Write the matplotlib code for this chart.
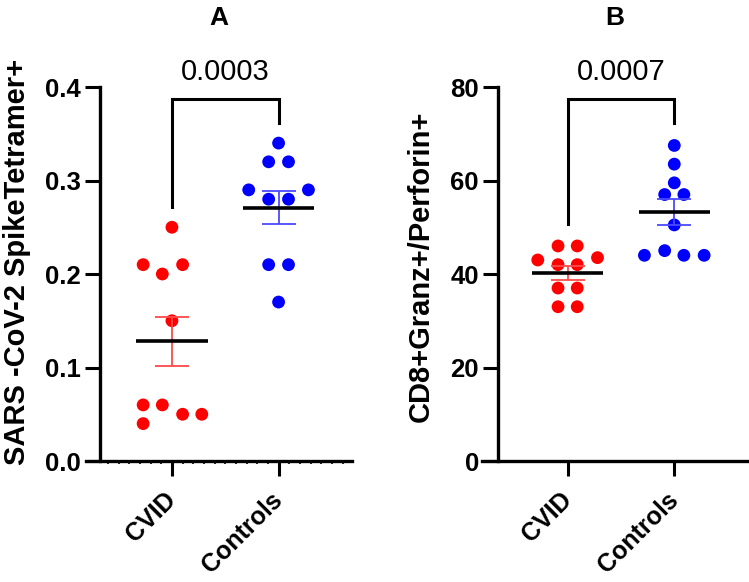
import matplotlib
matplotlib.use("Agg")
import matplotlib.pyplot as plt
from matplotlib.ticker import FixedLocator
import numpy as np

plt.rcParams['font.family'] = ['Liberation Sans', 'DejaVu Sans']

GROUPS = ["CVID", "Controls"]

# panel A: SARS-CoV-2 spike tetramer+
A_CVID = [0.25, 0.21, 0.21, 0.20, 0.15, 0.06, 0.06, 0.05, 0.05, 0.04]
A_CTRL = [0.34, 0.32, 0.32, 0.29, 0.29, 0.28, 0.28, 0.21, 0.21, 0.17]
A_PVAL = "0.0003"
A_YTICKS = [0.0, 0.1, 0.2, 0.3, 0.4]
A_YLABEL = "SARS -CoV-2 SpikeTetramer+"

# panel B: CD8+ granzyme+/perforin+
B_CVID = [46, 46, 43, 43.5, 42, 42, 37, 37, 33, 33]
B_CTRL = [67.5, 63.5, 59.5, 57, 57, 50.5, 44, 45, 44, 44]
B_PVAL = "0.0007"
B_YTICKS = [0, 20, 40, 60, 80]
B_YLABEL = "CD8+Granz+/Perforin+"

# horizontal scatter of the dots (layout only)
A_CVID_DX = [0, -0.27, 0.10, -0.09, 0, -0.27, -0.09, 0.10, 0.28, -0.27]
A_CTRL_DX = [0, -0.093, 0.093, -0.28, 0.28, -0.093, 0.093, -0.093, 0.093, 0]
B_CVID_DX = [-0.09, 0.09, -0.28, 0.28, -0.09, 0.09, -0.09, 0.09, -0.09, 0.09]
B_CTRL_DX = [0, 0, 0, -0.09, 0.09, 0, -0.28, -0.09, 0.09, 0.28]

RED = "#ff0000"
BLUE = "#0000ff"
ERR_RED = "#ff4a4a"
ERR_BLUE = "#4a4aff"


def draw_panel(ax, cvid, ctrl, dx1, dx2, yticks, ylabel, pval, title,
               bracket, spine_pos, minor=False):
    top = yticks[-1]
    # spine position first: it resets the tick objects
    for s in ['top', 'right']:
        ax.spines[s].set_visible(False)
    for s in ['left', 'bottom']:
        ax.spines[s].set_linewidth(2.4)
    ax.spines['left'].set_position(('axes', spine_pos))

    for i, (vals, dx, col, ecol) in enumerate([(cvid, dx1, RED, ERR_RED),
                                               (ctrl, dx2, BLUE, ERR_BLUE)]):
        vals = np.array(vals, dtype=float)
        ax.scatter(i + np.array(dx), vals, s=85, color=col, edgecolors='none',
                   zorder=3, clip_on=False)
        m = vals.mean()
        sem = vals.std(ddof=1) / np.sqrt(len(vals))
        ax.errorbar(i, m, yerr=sem, fmt='none', ecolor=ecol, elinewidth=1.3,
                    capsize=12, capthick=1.3, zorder=4)
        ax.plot([i - 0.335, i + 0.335], [m, m], color='black', lw=2.6,
                zorder=5, solid_capstyle='butt')

    # significance bracket
    hy, l_end, r_end = bracket
    ax.plot([0, 0, 1, 1], [l_end, hy, hy, r_end], color='black', lw=2.2,
            clip_on=False, solid_joinstyle='miter')
    ax.text(0.5, top * 1.04, pval, ha='center', va='center', fontsize=21,
            clip_on=False)

    ax.set_xlim(-0.806, 1.688)
    ax.set_ylim(0, top)
    ax.set_yticks(yticks)
    if isinstance(yticks[0], float):
        ax.set_yticklabels([f"{t:.1f}" for t in yticks])
    ax.set_xticks([0, 1])
    ax.set_xticklabels(GROUPS, rotation=45, ha='right', va='center',
                       rotation_mode='anchor')
    for lab in ax.get_yticklabels():
        lab.set_fontweight('bold')
        lab.set_fontsize(18.5)
    for lab in ax.get_xticklabels():
        lab.set_fontweight('bold')
        lab.set_fontsize(18)
    ax.tick_params(axis='both', width=2.2, length=10.5, color='black')
    ax.tick_params(axis='x', pad=15)
    ax.tick_params(axis='y', pad=3)
    if minor:
        ax.xaxis.set_minor_locator(FixedLocator(
            [v for v in np.arange(-0.6, 1.65, 0.1) if abs(v - round(v)) > 0.05]))
        ax.tick_params(axis='x', which='minor', length=2.5, width=1.2)
    ax.set_ylabel(ylabel, fontsize=21, fontweight='bold')
    ax.set_title(title, fontsize=19, fontweight='bold', pad=0, y=1.165)


fig = plt.figure(figsize=(7.49, 5.82), dpi=100)
axA = fig.add_axes([0.1148, 0.2079, 0.3551, 0.6426])
axB = fig.add_axes([0.6431, 0.2079, 0.3551, 0.6426])

draw_panel(axA, A_CVID, A_CTRL, A_CVID_DX, A_CTRL_DX, A_YTICKS, A_YLABEL,
           A_PVAL, "A", (0.387, 0.272, 0.362), 14 / 266, minor=True)
draw_panel(axB, B_CVID, B_CTRL, B_CVID_DX, B_CTRL_DX, B_YTICKS, B_YLABEL,
           B_PVAL, "B", (77.4, 50.7, 72.4), 16 / 266)

axA.yaxis.set_label_coords(-0.207, 0.532)
axB.yaxis.set_label_coords(-0.177, 0.521)

fig.savefig("out.png", dpi=100)
